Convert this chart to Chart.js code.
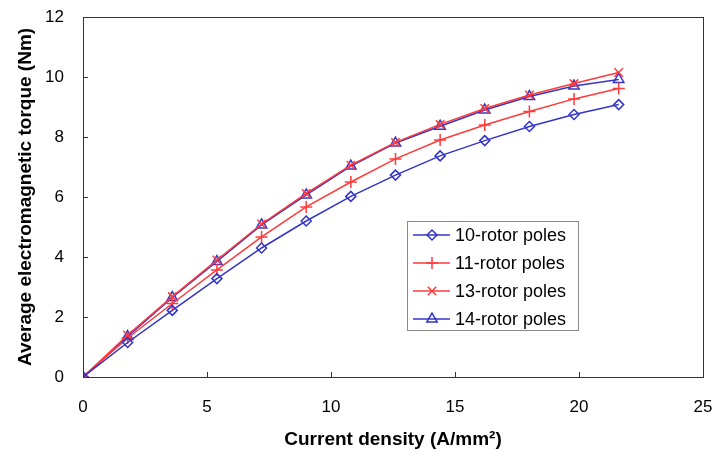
<!DOCTYPE html>
<html>
<head>
<meta charset="utf-8">
<script src="https://cdn.jsdelivr.net/npm/chart.js@4/dist/chart.umd.min.js"></script>
<style>
html,body{margin:0;padding:0;background:#fff;}
#wrap{width:716px;height:454px;position:relative;}
</style>
</head>
<body>
<div id="wrap"><canvas id="c" width="716" height="454"></canvas></div>
<script>
const currentDensity = [0, 1.8, 3.6, 5.4, 7.2, 9, 10.8, 12.6, 14.4, 16.2, 18, 19.8, 21.6];
const poles10 = [0, 1.15, 2.22, 3.28, 4.3, 5.2, 6.02, 6.73, 7.37, 7.88, 8.35, 8.75, 9.08];
const poles11 = [0, 1.3, 2.45, 3.57, 4.67, 5.67, 6.5, 7.27, 7.9, 8.4, 8.85, 9.27, 9.62];
const poles13 = [0, 1.4, 2.68, 3.9, 5.1, 6.12, 7.06, 7.82, 8.42, 8.95, 9.4, 9.78, 10.15];
const poles14 = [0, 1.35, 2.65, 3.85, 5.07, 6.07, 7.03, 7.8, 8.36, 8.9, 9.35, 9.7, 9.92];
const seriesLabels = ['10-rotor poles', '11-rotor poles', '13-rotor poles', '14-rotor poles'];
const xTicks = [0, 5, 10, 15, 20, 25];
const yTicks = [0, 2, 4, 6, 8, 10, 12];

const BLUE = '#3434c8';
const RED = '#ff3a3a';
const FONT = "'Liberation Sans', Arial, sans-serif";

function pts(ys) { return currentDensity.map((x, i) => ({x: x, y: ys[i]})); }

function ds(label, data, color, style, r) {
  return {
    label: label, data: pts(data), borderColor: color, backgroundColor: 'rgba(0,0,0,0)',
    borderWidth: 1.5, pointStyle: style, pointRadius: r, pointBorderColor: color,
    pointBackgroundColor: 'rgba(0,0,0,0)', pointBorderWidth: 1.5, tension: 0, fill: false
  };
}

const framePlugin = {
  id: 'frame',
  afterDraw(chart) {
    const ctx = chart.ctx, a = chart.chartArea;
    ctx.save();
    ctx.strokeStyle = '#333';
    ctx.lineWidth = 1;
    const xs = chart.scales.x, ys = chart.scales.y;
    ctx.beginPath();
    xs.ticks.forEach(t => {
      const px = Math.round(xs.getPixelForValue(t.value)) + 0.5;
      ctx.moveTo(px, a.bottom); ctx.lineTo(px, a.bottom - 5);
    });
    ys.ticks.forEach(t => {
      const py = Math.round(ys.getPixelForValue(t.value)) + 0.5;
      ctx.moveTo(a.left, py); ctx.lineTo(a.left + 5, py);
    });
    ctx.stroke();
    ctx.strokeRect(Math.round(a.left) + 0.5, Math.round(a.top) + 0.5, Math.round(a.right - a.left), Math.round(a.bottom - a.top));
    ctx.restore();
  }
};

const legendPlugin = {
  id: 'boxLegend',
  afterDraw(chart) {
    const ctx = chart.ctx;
    const bx = 407, by = 221, bw = 171, bh = 109, rowH = 28;
    ctx.save();
    ctx.fillStyle = '#fff';
    ctx.fillRect(bx, by, bw, bh);
    ctx.strokeStyle = '#8a8a8a';
    ctx.lineWidth = 1;
    ctx.strokeRect(bx + 0.5, by + 0.5, bw, bh);
    ctx.textBaseline = 'middle';
    chart.data.datasets.forEach((d, i) => {
      const y = by + 14 + i * rowH;
      ctx.strokeStyle = d.borderColor;
      ctx.lineWidth = d.borderWidth;
      ctx.beginPath(); ctx.moveTo(bx + 6, y); ctx.lineTo(bx + 43, y); ctx.stroke();
      ctx.fillStyle = 'rgba(0,0,0,0)';
      ctx.strokeStyle = d.pointBorderColor;
      ctx.lineWidth = d.pointBorderWidth;
      Chart.helpers.drawPoint(ctx, {
        pointStyle: d.pointStyle, radius: d.pointRadius, borderWidth: d.pointBorderWidth, rotation: 0
      }, bx + 25, y);
      ctx.font = '18px ' + FONT;
      ctx.fillStyle = '#000';
      ctx.fillText(d.label, bx + 48, y + 1);
    });
    ctx.restore();
  }
};

new Chart(document.getElementById('c'), {
  type: 'line',
  data: {
    datasets: [
      ds(seriesLabels[0], poles10, BLUE, 'rectRot', 5),
      ds(seriesLabels[1], poles11, RED, 'cross', 6),
      ds(seriesLabels[2], poles13, RED, 'crossRot', 6),
      ds(seriesLabels[3], poles14, BLUE, 'triangle', 6)
    ]
  },
  options: {
    responsive: false,
    animation: false,
    layout: {padding: {left: 0, right: 13, top: 17, bottom: 0}},
    plugins: {legend: {display: false}, tooltip: {enabled: false}},
    scales: {
      x: {
        type: 'linear', min: 0, max: 25,
        afterBuildTicks(s) { s.ticks = xTicks.map(v => ({value: v})); },
        afterFit(s) { s.height = 454 - 377; s.paddingLeft = 0; s.paddingRight = 0; },
        ticks: {color: '#000', font: {family: FONT, size: 17}, padding: 20},
        grid: {display: false, drawTicks: false},
        border: {display: false},
        title: {display: true, text: 'Current density (A/mm²)', color: '#000',
                font: {family: FONT, size: 19, weight: 'bold'}, padding: {top: 0, bottom: 3}}
      },
      y: {
        type: 'linear', min: 0, max: 12,
        afterBuildTicks(s) { s.ticks = yTicks.map(v => ({value: v})); },
        afterFit(s) { s.width = 83; s.paddingTop = 0; s.paddingBottom = 0; },
        ticks: {color: '#000', font: {family: FONT, size: 17}, padding: 19},
        grid: {display: false, drawTicks: false},
        border: {display: false},
        title: {display: true, text: 'Average electromagnetic torque (Nm)', color: '#000',
                font: {family: FONT, size: 19, weight: 'bold'}, padding: {top: 14, bottom: 0}}
      }
    }
  },
  plugins: [framePlugin, legendPlugin]
});
</script>
</body>
</html>
